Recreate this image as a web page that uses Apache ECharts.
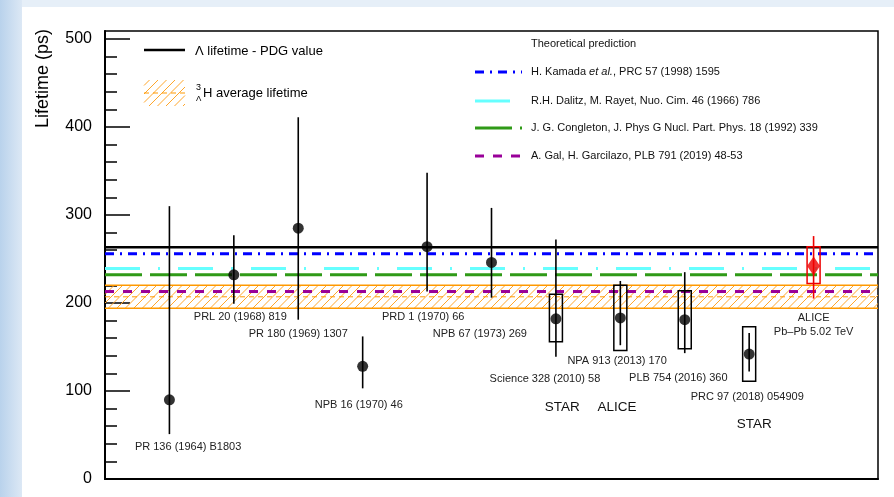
<!DOCTYPE html>
<html><head><meta charset="utf-8">
<script src="https://cdn.jsdelivr.net/npm/echarts@6/dist/echarts.min.js"></script>
<style>html,body{margin:0;padding:0;background:#fff}#c{width:894px;height:497px}</style>
</head><body><div id="c"></div>
<script>
// ---------------- data ----------------
const refs = ['PR 136 (1964) B1803','PRL 20 (1968) 819','PR 180 (1969) 1307','NPB 16 (1970) 46',
  'PRD 1 (1970) 66','NPB 67 (1973) 269','Science 328 (2010) 58','NPA 913 (2013) 170',
  'PLB 754 (2016) 360','PRC 97 (2018) 054909','ALICE\nPb\u2013Pb 5.02 TeV'];
const measX    = [1, 2, 3, 4, 5, 6, 7, 8, 9, 10, 11];
const lifetime = [90, 232, 285, 128, 264, 246, 182, 183, 181, 142, 242];
const statHigh = [310, 277, 411, 162, 348, 308, 272, 225, 235, 166, 276];
const statLow  = [51, 199, 181, 103, 213, 206, 139, 152, 143, 122, 205];
const sysHigh  = [null, null, null, null, null, null, 210, 220, 214, 173, 264];
const sysLow   = [null, null, null, null, null, null, 156, 146, 148, 111, 222];
// label anchors (data units)
const refLabelX = [1.29, 2.10, 3.00, 3.94, 4.94, 5.82, 6.83, 7.95, 8.90, 9.97, 11.0];
const refLabelY = [36, 184, 165, 84, 184, 165, 114, 134, 115, 93, 175];
const groupLabels = ['STAR', 'ALICE', 'STAR'];
const groupLabelX = [7.10, 7.95, 10.08];
const groupLabelY = [82, 82, 62];

const pdgLambda = 263.2;
const hyperAvg = 207, hyperLow = 194, hyperHigh = 220;
const theoryNames = ['H. Kamada {i|et al.}, PRC 57 (1998) 1595',
  'R.H. Dalitz, M. Rayet, Nuo. Cim. 46 (1966) 786',
  'J. G. Congleton, J. Phys G Nucl. Part. Phys. 18 (1992) 339',
  'A. Gal, H. Garcilazo, PLB 791 (2019) 48-53'];
const theoryValues = [256, 239.3, 232, 213];
const yMajorTicks = [0, 100, 200, 300, 400, 500];
const yMinorTicks = [20,40,60,80,120,140,160,180,220,240,260,280,320,340,360,380,420,440,460,480];
const xMin = 0, xMax = 12, yMin = 0, yMax = 509;

// ---------------- styles ----------------
const FONT = 'Liberation Sans, Arial, Helvetica, sans-serif';
const ORANGE = '#ff9900';
const HATCH = '#ffa62b';
const theoryColors = ['#0000ff', '#66ffff', '#2f9a17', '#990099'];
const theoryDash = [[9,6,2,6], [35,18,2,18], [37,8], [9,9]];

// diagonal "/" hatch lines clipped to a pixel rectangle
function hatchLines(x0, y0, x1, y1, step) {
  const out = [];
  const cStart = Math.ceil((x0 + y0) / step) * step;
  for (let c = cStart; c <= x1 + y1; c += step) {
    const xa = Math.max(x0, c - y1), xb = Math.min(x1, c - y0);
    if (xb <= xa) continue;
    out.push({ type: 'line', shape: { x1: xa, y1: c - xa, x2: xb, y2: c - xb },
      style: { stroke: HATCH, lineWidth: 1 } });
  }
  return out;
}

const chart = echarts.init(document.getElementById('c'), null, { renderer: 'canvas' });

const measData = measX.map((x, i) => [x, lifetime[i], statHigh[i], statLow[i],
  sysHigh[i] == null ? '-' : sysHigh[i], sysLow[i] == null ? '-' : sysLow[i]]);

const series = [];
// hypertriton average band
series.push({
  type: 'custom', z: 1, silent: true,
  data: [[xMin, xMax, hyperLow, hyperHigh, hyperAvg]],
  renderItem(params, api) {
    const p1 = api.coord([api.value(0), api.value(3)]);
    const p2 = api.coord([api.value(1), api.value(2)]);
    const pm = api.coord([api.value(0), api.value(4)]);
    return { type: 'group', children: hatchLines(p1[0], p1[1], p2[0], p2[1], 8.5).concat([
      { type: 'line', shape: { x1: p1[0], y1: p1[1], x2: p2[0], y2: p1[1] }, style: { stroke: ORANGE, lineWidth: 1.5 } },
      { type: 'line', shape: { x1: p1[0], y1: p2[1], x2: p2[0], y2: p2[1] }, style: { stroke: ORANGE, lineWidth: 1.5 } },
      { type: 'line', shape: { x1: p1[0], y1: pm[1], x2: p2[0], y2: pm[1] }, style: { stroke: ORANGE, lineWidth: 1, lineDash: [5,4] } }
    ])};
  }
});
// theoretical predictions
theoryValues.forEach((v, i) => {
  series.push({ type: 'line', z: 2, silent: true, symbol: 'none',
    data: [[xMin, v], [xMax, v]],
    lineStyle: { color: theoryColors[i], width: 3, type: theoryDash[i] } });
});
// PDG lambda
series.push({ type: 'line', z: 3, silent: true, symbol: 'none',
  data: [[xMin, pdgLambda], [xMax, pdgLambda]], lineStyle: { color: '#000', width: 2.5 } });
// error bars & systematic boxes
series.push({
  type: 'custom', z: 4, silent: true, data: measData,
  renderItem(params, api) {
    const i = params.dataIndex;
    const col = i === measData.length - 1 ? '#ee0000' : '#000';
    const x = api.value(0);
    const top = api.coord([x, api.value(2)]);
    const bot = api.coord([x, api.value(3)]);
    const ch = [{ type: 'line', shape: { x1: top[0], y1: top[1], x2: bot[0], y2: bot[1] },
      style: { stroke: col, lineWidth: 1.6 } }];
    const sh = api.value(4), sl = api.value(5);
    if (!isNaN(sh) && !isNaN(sl)) {
      const a = api.coord([x, sh]), b = api.coord([x, sl]);
      ch.push({ type: 'rect', shape: { x: a[0]-6.5, y: a[1], width: 13, height: b[1]-a[1] },
        style: { fill: 'none', stroke: col, lineWidth: 1.5 } });
    }
    return { type: 'group', children: ch };
  }
});
// points
series.push({ type: 'scatter', z: 5, silent: true, symbol: 'circle', symbolSize: 11,
  itemStyle: { color: '#000' }, data: measData.slice(0, -1).map(d => [d[0], d[1]]) });
series.push({ type: 'scatter', z: 5, silent: true, symbol: 'diamond', symbolSize: [13, 19],
  itemStyle: { color: '#ee0000' }, data: measData.slice(-1).map(d => [d[0], d[1]]) });
// reference labels
series.push({
  type: 'custom', z: 6, silent: true,
  data: refs.map((r, i) => [refLabelX[i], refLabelY[i]]),
  renderItem(params, api) {
    const p = api.coord([api.value(0), api.value(1)]);
    return { type: 'text', x: p[0], y: p[1],
      style: { text: refs[params.dataIndex], fill: '#222', font: '11px ' + FONT,
        align: 'center', verticalAlign: 'middle', lineHeight: 14 } };
  }
});
series.push({
  type: 'custom', z: 6, silent: true,
  data: groupLabels.map((g, i) => [groupLabelX[i], groupLabelY[i]]),
  renderItem(params, api) {
    const p = api.coord([api.value(0), api.value(1)]);
    return { type: 'text', x: p[0], y: p[1],
      style: { text: groupLabels[params.dataIndex], fill: '#111', font: '13.5px ' + FONT,
        align: 'center', verticalAlign: 'middle' } };
  }
});

// legend / decoration graphics
const graphic = [
  { type: 'rect', z: -10, shape: { x: 0, y: 0, width: 894, height: 7 }, style: { fill: '#e6eff8' }, silent: true },
  { type: 'rect', z: -10, shape: { x: 0, y: 0, width: 22, height: 497 }, silent: true,
    style: { fill: new echarts.graphic.LinearGradient(0, 0, 1, 0,
      [{ offset: 0, color: '#b9d2ec' }, { offset: 1, color: '#dce8f5' }]) } },
  { type: 'text', x: 43, y: 29, rotation: Math.PI / 2,
    style: { text: 'Lifetime (ps)', font: '18px ' + FONT, fill: '#000', align: 'right', verticalAlign: 'middle' } },
  // left legend
  { type: 'line', shape: { x1: 144, y1: 50, x2: 185, y2: 50 }, style: { stroke: '#000', lineWidth: 2.5 } },
  { type: 'text', x: 195, y: 51, style: { text: '\u039B lifetime - PDG value', font: '13px ' + FONT, fill: '#000', verticalAlign: 'middle' } },
  { type: 'group', children: hatchLines(144, 80, 185, 106, 8.5) },
  { type: 'line', shape: { x1: 144, y1: 93, x2: 185, y2: 93 }, style: { stroke: ORANGE, lineWidth: 1, lineDash: [5, 4] } },
  { type: 'text', x: 196, y: 88, style: { text: '3', font: '9px ' + FONT, fill: '#000', verticalAlign: 'middle' } },
  { type: 'text', x: 196, y: 99, style: { text: '\u039B', font: '8px ' + FONT, fill: '#000', verticalAlign: 'middle' } },
  { type: 'text', x: 203, y: 93, style: { text: 'H average lifetime', font: '13px ' + FONT, fill: '#000', verticalAlign: 'middle' } },
  // right legend
  { type: 'text', x: 531, y: 44, style: { text: 'Theoretical prediction', font: '11px ' + FONT, fill: '#111', verticalAlign: 'middle' } }
];
const legY = [72, 101, 128, 156];
theoryNames.forEach((n, i) => {
  graphic.push({ type: 'line', shape: { x1: 475, y1: legY[i], x2: 522, y2: legY[i] },
    style: { stroke: theoryColors[i], lineWidth: 3, lineDash: theoryDash[i] } });
  graphic.push({ type: 'text', x: 531, y: legY[i],
    style: { text: n, font: '11px ' + FONT, fill: '#111', verticalAlign: 'middle',
      rich: { i: { fontStyle: 'italic', fontSize: 11, fontFamily: FONT, fill: '#111' } } } });
});

chart.setOption({
  animation: false,
  backgroundColor: '#ffffff',
  grid: { left: 105, right: 16, top: 31, bottom: 18, show: true, borderColor: '#000', borderWidth: 1.5, backgroundColor: 'transparent' },
  xAxis: { type: 'value', min: xMin, max: xMax, axisLabel: { show: false }, axisTick: { show: false },
    splitLine: { show: false }, axisLine: { show: true, lineStyle: { color: '#000', width: 2 } } },
  yAxis: [
    { type: 'value', min: yMin, max: yMax, splitLine: { show: false },
      axisLine: { show: true, lineStyle: { color: '#000', width: 2 } },
      axisTick: { show: true, inside: true, length: 25, lineStyle: { color: '#000', width: 1.5 }, customValues: yMajorTicks },
      axisLabel: { show: true, customValues: yMajorTicks, margin: 13, fontSize: 16, fontFamily: FONT, color: '#000' } },
    { type: 'value', min: yMin, max: yMax, position: 'left', splitLine: { show: false },
      axisLine: { show: false }, axisLabel: { show: false },
      axisTick: { show: true, inside: true, length: 12, lineStyle: { color: '#000', width: 1.5 }, customValues: yMinorTicks } }
  ],
  graphic: graphic,
  series: series
});
</script></body></html>
